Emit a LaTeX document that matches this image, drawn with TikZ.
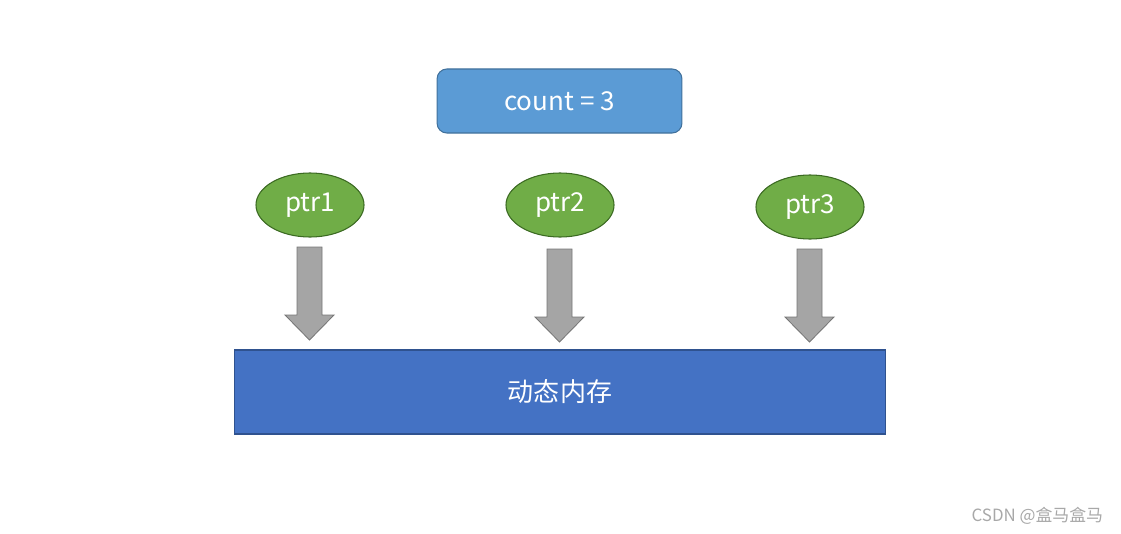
\documentclass[tikz,border=0pt]{standalone}
\usepackage{fontspec}
\setmainfont{Noto Sans CJK SC}
\usetikzlibrary{shapes.geometric, calc}

\definecolor{countfill}{HTML}{5B9BD5}
\definecolor{countline}{HTML}{41719C}
\definecolor{ptrfill}{HTML}{70AD47}
\definecolor{ptrline}{HTML}{3B6A22}
\definecolor{memfill}{HTML}{4472C4}
\definecolor{memline}{HTML}{2F528F}
\definecolor{arrowfill}{HTML}{A5A5A5}
\definecolor{arrowline}{HTML}{767676}
\definecolor{markgray}{HTML}{A8A8A8}

\tikzset{
  bigtext/.style={font=\fontsize{18.5}{22}\selectfont, text=white},
  countbox/.style={bigtext, rectangle, rounded corners=7pt, fill=countfill, draw=countline,
    line width=0.75pt, minimum width=6.12cm, minimum height=1.6cm, inner sep=0pt},
  ptrnode/.style={bigtext, ellipse, fill=ptrfill, draw=ptrline, line width=0.75pt,
    minimum width=2.7cm, minimum height=1.6cm, inner sep=0pt},
  membox/.style={bigtext, rectangle, fill=memfill, draw=memline, line width=0.75pt,
    minimum width=16.25cm, minimum height=2.1cm, inner sep=0pt},
}

\begin{document}
\begin{tikzpicture}[x=0.025cm,y=-0.025cm]
    \useasboundingbox (0,0) rectangle (1121,534);
    % shared counter
    \node[countbox] (count) at (559.5,101) {count = 3};
    % the three pointers
    \node[ptrnode] (ptr1) at (310,205) {ptr1};
    \node[ptrnode] (ptr2) at (560,205) {ptr2};
    \node[ptrnode] (ptr3) at (810,207) {ptr3};
    % block arrows down to the memory
    \foreach \x/\y in {309.5/247, 559.5/249, 809.5/249}{
      \draw[fill=arrowfill, draw=arrowline, line width=0.6pt, line join=miter]
        (\x-12.5,\y)-- ++(25,0)-- ++(0,68)-- ++(12,0)-- ++(-24.5,25)-- ++(-24.5,-25)-- ++(12,0)--cycle;
    }
    % dynamic memory block
    \node[membox] (mem) at (560,392) {动态内存};
    \node[font=\fontsize{12}{14}\selectfont, text=markgray, anchor=east] (mark) at (1108,516) {CSDN @盒马盒马};
\end{tikzpicture}
\end{document}
